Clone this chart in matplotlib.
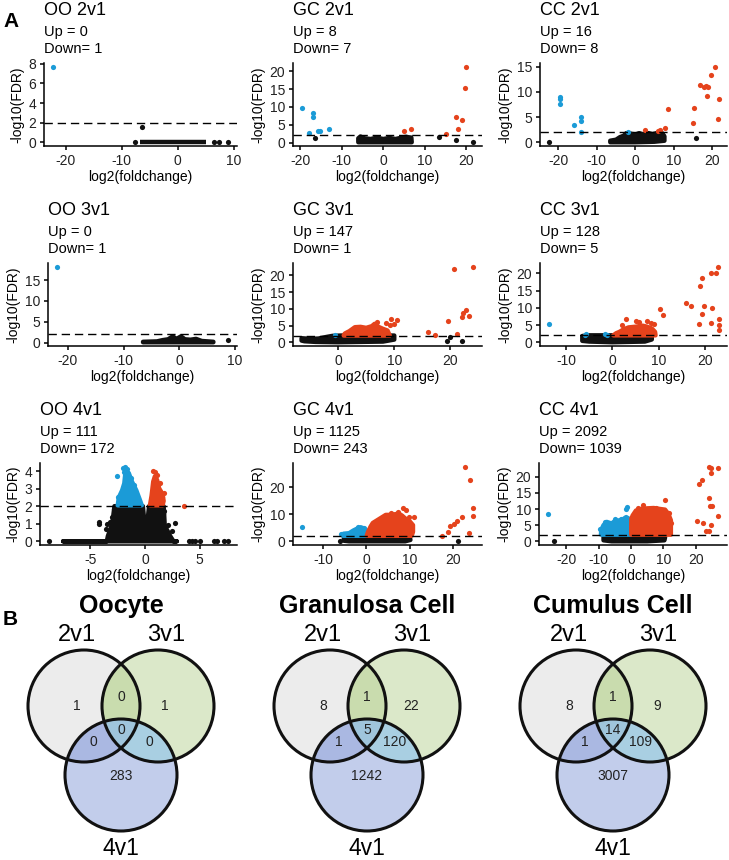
import numpy as np
import matplotlib
matplotlib.use("Agg")
import matplotlib.pyplot as plt
from matplotlib.patches import Circle, Polygon

plt.rcParams["font.family"] = ["Liberation Sans", "DejaVu Sans"]
plt.rcParams["axes.unicode_minus"] = False

W, H = 729, 860
BLACK = "#111111"
BLUE = "#1b9bd7"
RED = "#e5431c"

# ---- panel A: volcano data, (log2 foldchange, -log10 FDR) ----
titles = ["OO 2v1", "GC 2v1", "CC 2v1", "OO 3v1", "GC 3v1", "CC 3v1",
          "OO 4v1", "GC 4v1", "CC 4v1"]
up_counts = [0, 8, 16, 0, 147, 128, 111, 1125, 2092]
down_counts = [1, 7, 8, 1, 1, 5, 172, 243, 1039]

oo2_black = [(-7.6, 0), (-6.3, 1.6), (6.5, 0), (7.3, 0), (9.0, 0)]
oo2_black_cloud = [(-6.8, 0), (5.0, 0)]
oo2_blue = [(-22.3, 7.7)]

gc2_black = [(-16.5, 1.2), (13.5, 1.7), (17.7, 0.75), (21.8, 0.2)]
gc2_black_cloud = [(-6.0, 0.1), (-6.0, 1.2), (-5.5, 1.7), (-4.5, 1.2), (-3.0, 1.0), (-1.5, 1.4),
                   (0.0, 1.0), (1.5, 1.3), (3.0, 1.0), (4.5, 1.4), (5.5, 1.6), (6.8, 1.4), (6.9, 0.1)]
gc2_blue = [(-19.7, 9.8), (-17.0, 8.4), (-16.9, 7.3), (-18.0, 2.8), (-15.8, 3.2), (-15.3, 3.2), (-13.0, 3.7)]
gc2_red = [(5.1, 3.2), (6.7, 3.9), (15.3, 2.3), (17.7, 7.3), (18.0, 3.8), (19.1, 6.3), (19.7, 15.2), (20.1, 21.3)]

cc2_black = [(-22.6, 0.05), (15.8, 0.9)]
cc2_black_cloud = [(-6.5, 0.0), (-6.5, 0.3), (-5.0, 0.5), (-4.0, 1.0), (-3.0, 1.3), (-2.3, 1.8), (-1.0, 1.7),
                   (0.0, 1.5), (1.0, 1.8), (2.0, 1.6), (3.5, 1.8), (4.5, 1.6), (5.5, 1.8), (7.0, 1.8),
                   (7.6, 1.2), (7.6, 0.3), (5.0, 0.1), (0.0, 0.0)]
cc2_blue = [(-19.6, 8.9), (-19.7, 8.5), (-19.6, 7.6), (-16.0, 3.5), (-14.1, 5.0), (-14.1, 4.2),
            (-14.2, 2.1), (-1.9, 2.1)]
cc2_red = [(2.6, 2.4), (6.0, 2.3), (6.5, 2.5), (7.8, 2.8), (8.6, 6.6), (15.1, 3.8), (15.3, 6.9), (17.0, 11.3),
           (17.8, 11.0), (18.5, 11.1), (19.0, 11.0), (18.8, 9.1), (19.7, 13.4), (20.7, 15.0), (21.7, 8.6), (21.6, 4.6)]

oo3_black = [(8.8, 0.6)]
oo3_black_cloud = [(-6.5, 0.2), (-4.0, 0.3), (-3.0, 0.6), (-2.0, 0.8), (-1.2, 1.5), (-0.5, 0.9), (0.3, 1.5),
                   (1.0, 0.8), (2.0, 0.7), (3.0, 0.9), (4.0, 0.4), (6.1, 0.2), (6.1, 0.1), (-6.5, 0.1)]
oo3_blue = [(-22.0, 18.2)]

gc3_black = [(19.4, 0.3), (20.0, 1.6), (22.0, 0.3)]
gc3_black_cloud = [(-6.5, 0.5), (-6.5, 1.2), (-5.0, 1.0), (-3.5, 1.1), (-2.0, 1.6), (-1.0, 1.9), (0.5, 2.0),
                   (10.0, 2.0), (10.0, 0.8), (8.0, 0.2), (0.0, 0.0), (-4.0, 0.1), (-6.0, 0.3)]
gc3_blue = [(-0.5, 2.3)]
gc3_red_cloud = [(1.0, 2.0), (1.2, 2.6), (2.0, 3.3), (3.0, 4.5), (4.0, 4.6), (5.0, 4.3), (6.0, 4.8),
                 (6.5, 5.5), (7.2, 4.6), (8.0, 4.0), (8.8, 3.5), (9.2, 2.0)]
gc3_red = [(7.0, 6.2), (8.6, 5.7), (9.2, 5.2), (9.5, 6.9), (10.5, 6.7), (9.9, 5.4), (16.1, 3.0), (17.3, 2.3),
           (19.6, 6.4), (20.7, 21.8), (21.1, 2.5), (22.0, 7.7), (22.3, 8.7), (22.7, 9.7), (23.4, 7.9), (24.1, 22.6)]

cc3_black_cloud = [(-6.5, 0.4), (-6.5, 1.8), (-5.0, 2.0), (8.5, 2.0), (8.5, 0.8), (7.0, 0.2), (0.0, 0.0), (-5.0, 0.2)]
cc3_blue = [(-13.8, 5.3), (-5.7, 2.5), (-5.9, 2.2), (-1.2, 2.2), (-1.5, 2.3)]
cc3_red_cloud = [(0.2, 2.0), (0.8, 2.6), (1.5, 3.0), (2.5, 3.8), (3.5, 4.3), (5.0, 4.5), (6.5, 4.8),
                 (7.5, 4.5), (8.5, 4.0), (9.2, 3.0), (9.3, 2.0)]
cc3_red = [(2.0, 5.0), (2.9, 6.6), (5.1, 6.2), (5.8, 5.8), (7.4, 6.2), (8.3, 5.6), (9.0, 5.3), (10.3, 9.6),
           (10.9, 7.9), (15.8, 11.5), (16.9, 10.6), (18.6, 5.3), (18.9, 16.2), (19.4, 18.5), (19.8, 10.6),
           (19.3, 8.2), (21.2, 20.0), (21.4, 9.9), (21.2, 5.6), (22.3, 20.0), (22.7, 21.9), (22.9, 6.7),
           (22.9, 5.0), (22.9, 3.6)]

oo4_black = [(-8.8, 0), (4.0, 0), (4.3, 0), (4.6, 0), (5.0, 0), (6.3, 0), (6.6, 0), (7.2, 0), (7.6, 0),
             (-4.2, 1.1), (-4.2, 1.0), (-3.5, 1.0), (-3.2, 1.1), (-3.6, 0.7), (-3.0, 1.4), (-2.8, 1.85),
             (1.6, 1.56), (2.1, 0.9), (2.45, 0.56), (2.7, 1.03), (1.7, 1.7)]
oo4_black_cloud = [(-7.5, 0.0), (-3.5, 0.0), (-3.4, 0.3), (-3.0, 1.0), (-2.9, 1.5), (-2.8, 2.0), (-0.2, 2.0),
                   (-0.05, 1.0), (0.05, 0.3), (0.2, 1.0), (0.37, 2.0), (1.7, 2.0), (1.75, 1.5), (1.8, 0.9),
                   (2.3, 0.3), (2.6, 0.0), (2.9, 0.0)]
oo4_blue = [(-2.5, 2.5), (-2.55, 3.7), (-2.05, 4.2), (-1.85, 4.25), (-1.65, 4.1), (-1.9, 3.95), (-1.3, 3.6), (-1.0, 3.2)]
oo4_blue_cloud = [(-2.5, 2.05), (-2.4, 2.5), (-2.1, 2.9), (-1.9, 3.3), (-1.8, 3.9), (-1.5, 3.9), (-1.2, 3.4),
                  (-0.8, 2.9), (-0.5, 2.4), (-0.3, 2.05)]
oo4_red = [(0.7, 4.0), (0.9, 3.95), (1.05, 3.75), (1.4, 3.3), (1.7, 2.75), (1.55, 2.5), (3.6, 2.03)]
oo4_red_cloud = [(0.45, 2.05), (0.6, 2.6), (0.75, 3.4), (0.9, 3.7), (1.1, 3.5), (1.3, 3.0), (1.6, 2.7),
                 (1.7, 2.3), (1.6, 2.05)]

gc4_black = [(-6.0, 0.2), (21.2, 0.0)]
gc4_black_cloud = [(-5.2, 0.2), (-5.2, 1.8), (0.0, 2.0), (10.0, 2.0), (10.2, 0.5), (9.0, 0.0), (-4.0, 0.0)]
gc4_blue = [(-15.0, 5.2), (-5.9, 2.8), (-1.9, 5.3), (-0.6, 5.0)]
gc4_blue_cloud = [(-5.4, 2.05), (-5.3, 2.8), (-4.0, 3.0), (-3.0, 4.0), (-2.0, 4.8), (-1.3, 5.2), (-0.6, 4.8),
                  (-0.1, 4.2), (0.0, 2.05)]
gc4_red = [(5.8, 10.4), (7.4, 11.0), (8.5, 12.4), (9.3, 11.6), (9.8, 8.9), (11.1, 9.1), (17.6, 2.1), (19.0, 3.4),
           (19.4, 5.7), (20.2, 6.5), (21.1, 7.7), (22.1, 9.1), (22.9, 27.7), (24.0, 22.9), (24.7, 9.5),
           (24.8, 12.2), (23.8, 3.0)]
gc4_red_cloud = [(0.1, 2.05), (0.4, 3.5), (1.0, 5.5), (1.5, 6.8), (2.5, 7.8), (3.5, 8.8), (4.5, 9.8), (5.5, 9.8),
                 (6.5, 10.0), (7.5, 10.3), (8.3, 9.5), (9.0, 8.5), (10.0, 7.5), (10.8, 6.0), (10.8, 3.5), (10.5, 2.05)]

cc4_black = [(-23.7, 0.0)]
cc4_black_cloud = [(-8.5, 0.3), (-8.5, 1.9), (-6.0, 2.0), (10.0, 2.0), (10.5, 1.2), (10.3, 0.3), (5.0, 0.0), (-6.0, 0.0)]
cc4_blue = [(-25.8, 8.5), (-1.5, 10.0), (-1.2, 10.5), (-8.2, 6.0), (-9.5, 3.8), (-5.0, 6.9), (-3.0, 7.0)]
cc4_blue_cloud = [(-9.3, 2.05), (-9.2, 3.5), (-8.5, 5.0), (-7.5, 6.0), (-6.0, 5.5), (-5.0, 6.3), (-3.5, 6.5),
                  (-2.5, 6.8), (-1.5, 7.5), (-0.7, 7.0), (0.0, 6.5), (0.0, 2.05)]
cc4_red = [(10.5, 12.8), (11.8, 8.7), (12.3, 5.6), (3.6, 11.1), (7.7, 10.3), (2.0, 10.2), (20.5, 6.2), (21.0, 17.7),
           (22.0, 19.0), (22.3, 5.6), (23.1, 3.1), (24.1, 23.1), (24.6, 22.6), (24.8, 21.2), (24.1, 13.3),
           (24.3, 10.8), (24.9, 10.8), (26.8, 22.6), (27.0, 7.9), (24.6, 5.1), (24.1, 3.1)]
cc4_red_cloud = [(0.05, 2.05), (0.1, 7.0), (0.5, 8.0), (1.5, 9.5), (3.0, 10.0), (5.0, 10.2), (7.0, 10.3),
                 (9.0, 10.0), (10.5, 9.8), (11.5, 8.5), (12.3, 6.5), (12.3, 2.05)]

xticks = [[-20, -10, 0, 10], [-20, -10, 0, 10, 20], [-20, -10, 0, 10, 20],
          [-20, -10, 0, 10], [0, 10, 20], [-10, 0, 10, 20],
          [-5, 0, 5], [-10, 0, 10, 20], [-20, -10, 0, 10, 20]]
yticks = [[0, 2, 4, 6, 8], [0, 5, 10, 15, 20], [0, 5, 10, 15],
          [0, 5, 10, 15], [0, 5, 10, 15, 20], [0, 5, 10, 15, 20],
          [0, 1, 2, 3, 4], [0, 10, 20], [0, 5, 10, 15, 20]]

# ---- panel B: Venn counts (2v1 only, 2v1&3v1, 3v1 only, 2v1&4v1, all, 3v1&4v1, 4v1 only) ----
venn_titles = ["Oocyte", "Granulosa Cell", "Cumulus Cell"]
set_names = ["2v1", "3v1", "4v1"]
oocyte_counts = [1, 0, 1, 0, 0, 0, 283]
granulosa_counts = [8, 1, 22, 1, 5, 120, 1242]
cumulus_counts = [8, 1, 9, 1, 14, 109, 3007]

fig = plt.figure(figsize=(W / 100, H / 100), dpi=100)


def px_axes(l, t, r, b):
    return fig.add_axes([l / W, 1 - b / H, (r - l) / W, (b - t) / H])


def draw_volcano(ax, black, black_cloud, blue, blue_cloud, red, red_cloud, xt, yt):
    for cloud, pts, col in ((black_cloud, black, BLACK), (blue_cloud, blue, BLUE), (red_cloud, red, RED)):
        if cloud:
            cx, cy = zip(*cloud)
            ax.fill(cx, cy, color=col, lw=3.2, joinstyle="round", zorder=2)
        if pts:
            x, y = zip(*pts)
            ax.scatter(x, y, s=14, c=col, lw=0, zorder=2)
    ax.margins(0.05)
    ax.axhline(2, color="black", lw=1, ls=(0, (6, 3.5)), zorder=3)
    ax.set_xticks(xt)
    ax.set_yticks(yt)
    for s in ("top", "right"):
        ax.spines[s].set_visible(False)
    for s in ("left", "bottom"):
        ax.spines[s].set_linewidth(1.1)
    ax.tick_params(length=3, width=1.1, pad=2.5, labelsize=10, labelcolor="#222222")
    ax.set_xlabel("log2(foldchange)", fontsize=10, labelpad=2)
    ax.set_ylabel("-log10(FDR)", fontsize=10, labelpad=3)


panel_data = [
    (oo2_black, oo2_black_cloud, oo2_blue, [], [], []),
    (gc2_black, gc2_black_cloud, gc2_blue, [], gc2_red, []),
    (cc2_black, cc2_black_cloud, cc2_blue, [], cc2_red, []),
    (oo3_black, oo3_black_cloud, oo3_blue, [], [], []),
    (gc3_black, gc3_black_cloud, gc3_blue, [], gc3_red, gc3_red_cloud),
    ([], cc3_black_cloud, cc3_blue, [], cc3_red, cc3_red_cloud),
    (oo4_black, oo4_black_cloud, oo4_blue, oo4_blue_cloud, oo4_red, oo4_red_cloud),
    (gc4_black, gc4_black_cloud, gc4_blue, gc4_blue_cloud, gc4_red, gc4_red_cloud),
    (cc4_black, cc4_black_cloud, cc4_blue, cc4_blue_cloud, cc4_red, cc4_red_cloud),
]

row_top = [63, 263, 463]
row_bot = [146, 346, 545]
lefts = [[44, 293, 540], [48, 293, 540], [40, 293, 539]]
rights = [237, 482, 727]

for i, data in enumerate(panel_data):
    r, c = divmod(i, 3)
    l, t = lefts[r][c], row_top[r]
    ax = px_axes(l, t, rights[c], row_bot[r])
    draw_volcano(ax, *data, xticks[i], yticks[i])
    fig.text(l / W, 1 - (t - 48) / H, titles[i], fontsize=13, va="baseline", ha="left")
    fig.text(l / W, 1 - (t - 27) / H, "Up = %d" % up_counts[i], fontsize=10.5, va="baseline", ha="left")
    fig.text(l / W, 1 - (t - 10) / H, "Down= %d" % down_counts[i], fontsize=10.5, va="baseline", ha="left")

fig.text(3 / W, 1 - 27 / H, "A", fontsize=15, fontweight="bold", va="baseline")
fig.text(3 / W, 1 - 625 / H, "B", fontsize=15, fontweight="bold", va="baseline")

# ---- Venn diagrams ----
vax = fig.add_axes([0, 0, 1, 275 / H])
vax.set_xlim(0, W)
vax.set_ylim(H, H - 275)
vax.axis("off")

R = 56
fills = ["#ececec", "#dbe8c9", "#c2cdeb"]
c12, c13, c23, c123 = "#c9dcae", "#aab8e2", "#a9cfe2", "#9fc5dc"
num_offsets = [(-44, 0), (0, -9), (44, 0), (-28, 36), (0, 24), (28, 36), (0, 70)]


def lens(a, b, r):
    t = np.linspace(0, 2 * np.pi, 500)
    pa = np.c_[a[0] + r * np.cos(t), a[1] + r * np.sin(t)]
    pb = np.c_[b[0] + r * np.cos(t), b[1] + r * np.sin(t)]
    pts = np.vstack([pa[np.hypot(pa[:, 0] - b[0], pa[:, 1] - b[1]) <= r],
                     pb[np.hypot(pb[:, 0] - a[0], pb[:, 1] - a[1]) <= r]])
    m = pts.mean(0)
    return pts[np.argsort(np.arctan2(pts[:, 1] - m[1], pts[:, 0] - m[0]))]


for cx, title, counts in zip([121, 367, 613], venn_titles, [oocyte_counts, granulosa_counts, cumulus_counts]):
    centers = [(cx - 37, 706), (cx + 37, 706), (cx, 775)]
    base = []
    for (x, y), fc in zip(centers, fills):
        p = Circle((x, y), R, facecolor=fc, edgecolor="none", zorder=1)
        vax.add_patch(p)
        base.append(p)
    vax.add_patch(Polygon(lens(centers[0], centers[1], R), facecolor=c12, edgecolor="none", zorder=2))
    p = Circle(centers[2], R, facecolor=c13, edgecolor="none", zorder=2)
    vax.add_patch(p)
    p.set_clip_path(base[0])
    p = Circle(centers[2], R, facecolor=c23, edgecolor="none", zorder=2)
    vax.add_patch(p)
    p.set_clip_path(base[1])
    p = Polygon(lens(centers[0], centers[1], R), facecolor=c123, edgecolor="none", zorder=3)
    vax.add_patch(p)
    p.set_clip_path(base[2])
    for x, y in centers:
        vax.add_patch(Circle((x, y), R, facecolor="none", edgecolor="#111111", lw=2.2, zorder=4))
    for (dx, dy), n in zip(num_offsets, counts):
        vax.text(cx + dx, 706 + dy, str(n), fontsize=10, ha="center", va="center", color="#222222", zorder=5)
    vax.text(cx, 613, title, fontsize=18, fontweight="bold", ha="center", va="baseline")
    vax.text(cx - 44, 641, set_names[0], fontsize=17, ha="center", va="baseline")
    vax.text(cx + 45, 641, set_names[1], fontsize=17, ha="center", va="baseline")
    vax.text(cx, 855, set_names[2], fontsize=16.5, ha="center", va="baseline")

fig.savefig("out.png", dpi=100)
